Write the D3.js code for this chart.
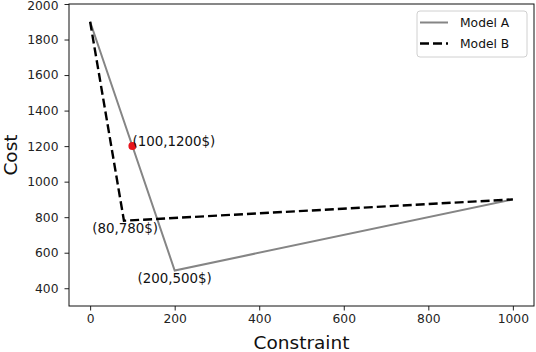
<!DOCTYPE html>
<html><head><meta charset="utf-8">
<script src="https://cdn.jsdelivr.net/npm/d3@7"></script>
<style>body{margin:0;background:#fff}svg{display:block}text{font-family:"DejaVu Sans",sans-serif}</style>
</head><body>
<svg id="c" width="536" height="352"></svg>
<script>
const modelAX = [0, 200, 1000];
const modelAY = [1900, 500, 900];
const modelBX = [0, 80, 1000];
const modelBY = [1900, 780, 900];
const pointX = [100];
const pointY = [1200];
const annLabels = ["(100,1200$)", "(80,780$)", "(200,500$)"];
const annX = [100, 5, 112];
const annY = [1200, 713, 432];
const xTicks = [0, 200, 400, 600, 800, 1000];
const yTicks = [400, 600, 800, 1000, 1200, 1400, 1600, 1800, 2000];
const seriesNames = ["Model A", "Model B"];

const svg = d3.select("#c");
const L = 69, R = 534, T = 4, B = 306;
const x = d3.scaleLinear().domain([-50, 1050]).range([L, R]);
const y = d3.scaleLinear().domain([300, 2000]).range([B, T]);

const line = d3.line().x(d => x(d[0])).y(d => y(d[1]));
const A = modelAX.map((v, i) => [v, modelAY[i]]);
const Bd = modelBX.map((v, i) => [v, modelBY[i]]);

svg.append("path").datum(A).attr("d", line).attr("fill", "none")
  .attr("stroke", "#858585").attr("stroke-width", 2);
svg.append("path").datum(Bd).attr("d", line).attr("fill", "none")
  .attr("stroke", "#000").attr("stroke-width", 2.4).attr("stroke-dasharray", "9,4");

svg.selectAll("circle.pt").data(pointX).enter().append("circle")
  .attr("cx", (d) => x(d)).attr("cy", (d, i) => y(pointY[i])).attr("r", 4).attr("fill", "#e8141c");

svg.selectAll("text.ann").data(annLabels).enter().append("text")
  .attr("x", (d, i) => x(annX[i])).attr("y", (d, i) => y(annY[i]))
  .attr("font-size", 13.4).attr("fill", "#111").text(d => d);

// axes
const fmt = d3.format("d");
const xAxis = d3.axisBottom(x).tickValues(xTicks).tickFormat(fmt).tickSize(4.5).tickPadding(4);
const yAxis = d3.axisLeft(y).tickValues(yTicks).tickFormat(fmt).tickSize(4.5).tickPadding(6);
const gx = svg.append("g").attr("transform", `translate(0,${B})`).call(xAxis);
const gy = svg.append("g").attr("transform", `translate(${L},0)`).call(yAxis);
[gx, gy].forEach(g => {
  g.select(".domain").remove();
  g.selectAll("text").attr("font-size", 12.3).attr("fill", "#222").attr("font-family", "DejaVu Sans");
  g.selectAll("line").attr("stroke", "#222");
});
// keep the top tick label inside the canvas
gy.selectAll(".tick text").filter(d => d === 2000).attr("dy", "0.48em");
svg.append("rect").attr("x", L).attr("y", T).attr("width", R - L).attr("height", B - T)
  .attr("fill", "none").attr("stroke", "#111").attr("stroke-width", 1);

svg.append("text").attr("x", (L + R) / 2).attr("y", 349).attr("text-anchor", "middle")
  .attr("font-size", 18.5).attr("fill", "#111").text("Constraint");
svg.append("text").attr("transform", `translate(16.5,${(T + B) / 2}) rotate(-90)`).attr("text-anchor", "middle")
  .attr("font-size", 18.5).attr("fill", "#111").text("Cost");

// legend
const lg = svg.append("g");
lg.append("rect").attr("x", 417).attr("y", 11).attr("width", 110).attr("height", 46).attr("rx", 3)
  .attr("fill", "#fff").attr("fill-opacity", 0.8).attr("stroke", "#d0d0d0");
const styles = [{c: "#858585", w: 2, d: null}, {c: "#000", w: 2.4, d: "9,4"}];
seriesNames.forEach((n, i) => {
  const yy = 22.5 + i * 21;
  lg.append("line").attr("x1", 420).attr("x2", 448).attr("y1", yy).attr("y2", yy)
    .attr("stroke", styles[i].c).attr("stroke-width", styles[i].w).attr("stroke-dasharray", styles[i].d);
  lg.append("text").attr("x", 460).attr("y", yy + 4.5).attr("font-size", 12.3).attr("fill", "#111").text(n);
});
</script>
</body></html>
